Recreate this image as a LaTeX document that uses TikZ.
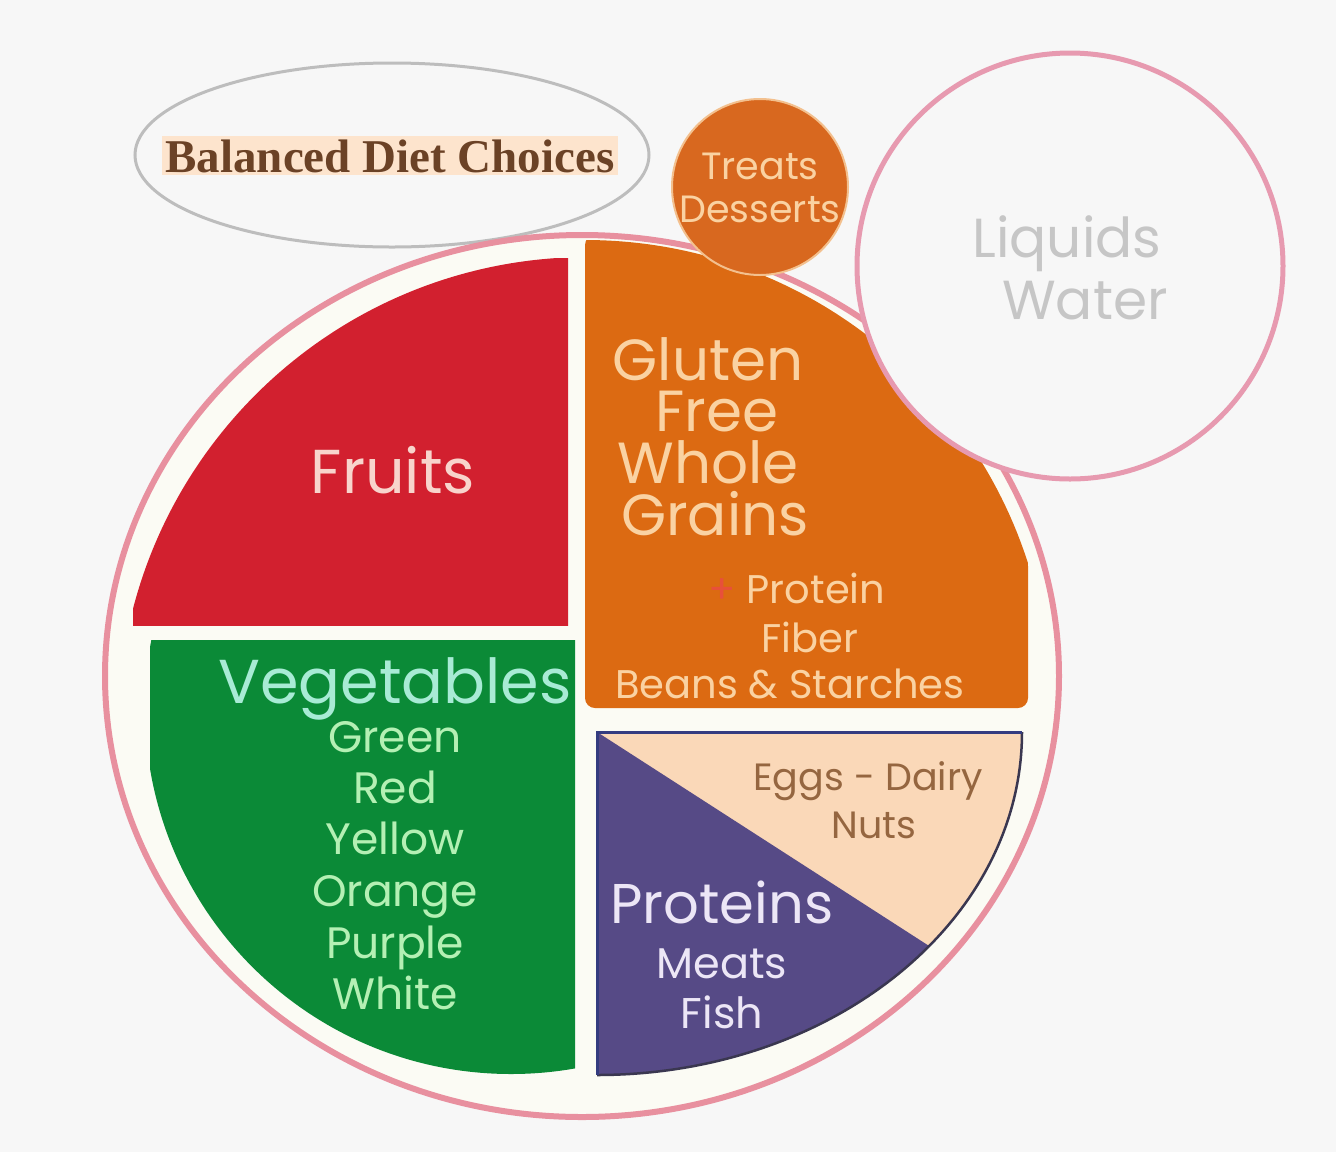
\documentclass[tikz,border=0pt]{standalone}
\usepackage{fontspec}
\usetikzlibrary{positioning}
\newfontfamily\platefont{Poppins}
\newfontfamily\titlefont{Liberation Serif}
\newcommand{\fsz}[1]{\fontsize{#1}{#1}\selectfont}
\definecolor{pagebg}{HTML}{F7F7F7}
\definecolor{platepink}{HTML}{E8909F}
\definecolor{platein}{HTML}{FBFBF4}
\definecolor{ovalgrey}{HTML}{BDBDBD}
\definecolor{fruitred}{HTML}{D2202F}
\definecolor{veggreen}{HTML}{0B8A37}
\definecolor{grainorange}{HTML}{DC6A12}
\definecolor{treatorange}{HTML}{D8681F}
\definecolor{treatrim}{HTML}{F3C08E}
\definecolor{protpurple}{HTML}{564A86}
\definecolor{eggpeach}{HTML}{FAD8B8}
\definecolor{protnavy}{HTML}{343C80}
\definecolor{protedge}{HTML}{3A3750}
\definecolor{liquidpink}{HTML}{E79AB0}
\definecolor{fruitpale}{HTML}{F8D4CC}
\definecolor{vegcyan}{HTML}{A8EBD5}
\definecolor{veglight}{HTML}{B4F0B4}
\definecolor{grainpale}{HTML}{FAD2A2}
\definecolor{dashred}{HTML}{E8503A}
\definecolor{liquidgrey}{HTML}{C6C6C6}
\definecolor{eggbrown}{HTML}{956640}
\definecolor{protpale}{HTML}{ECE6F6}
\definecolor{titlebrown}{HTML}{6B4226}
\definecolor{titlebg}{HTML}{FDE4CD}
\tikzset{
  oval/.style={draw=ovalgrey, line width=3pt},
  ring/.style={draw=platepink, line width=6pt, fill=platein},
  titletext/.style={font={\titlefont\bfseries\fsz{47}}, text=titlebrown, fill=titlebg, inner sep=3pt, anchor=base},
  platetext/.style={inner sep=0pt, anchor=base},
  fruittext/.style={platetext, font={\platefont\fsz{62}}, text=fruitpale},
  vegtitle/.style={platetext, font={\platefont\fsz{62}}, text=vegcyan},
  vegline/.style={platetext, font={\platefont\fsz{44}}, text=veglight},
  graintext/.style={platetext, font={\platefont\fsz{58}}, text=grainpale, text height=42pt, text depth=6pt},
  grainline/.style={platetext, font={\platefont\fsz{40}}, text=grainpale},
  treattext/.style={platetext, font={\platefont\fsz{38}}, text=grainpale},
  liquidtext/.style={platetext, font={\platefont\fsz{55}}, text=liquidgrey},
  eggtext/.style={platetext, font={\platefont\fsz{38}}, text=eggbrown},
  proteintitle/.style={platetext, font={\platefont\fsz{56}}, text=protpale},
  proteinline/.style={platetext, font={\platefont\fsz{43}}, text=protpale}
}
\begin{document}
\begin{tikzpicture}[x=1pt, y=-1pt]
  \useasboundingbox (0,0) rectangle (1336,1152);
  \fill[pagebg] (0,0) rectangle (1336,1152);

  % title oval
  \draw[oval] (392,155) ellipse [x radius=257, y radius=92];
  \node (title) [titletext] at (390,172) {Balanced Diet Choices};

  % plate
  \draw[ring] (582,676) ellipse [x radius=477, y radius=441];

  % fruits
  \begin{scope}
    \clip (133,258) rectangle (568,625);
    \fill[fruitred] (588,727) circle (470);
  \end{scope}

  % vegetables
  \begin{scope}
    \clip (150,640) rectangle (575,1077);
    \fill[veggreen] (511,708) circle (366);
  \end{scope}

  % grains
  \begin{scope}
    \clip[rounded corners=10pt] (585,235) rectangle (1028,708);
    \fill[grainorange] (585,705) circle (465);
  \end{scope}

  % proteins and eggs
  \fill[eggpeach] (597,732) -- (1022,732) arc[start angle=0, end angle=90, x radius=425, y radius=343] -- cycle;
  \fill[protpurple] (597,732) -- ++(38.6:425 and 343) arc[start angle=38.6, end angle=90, x radius=425, y radius=343] -- cycle;
  \draw[protedge, line width=2.5pt] (1022,732) arc[start angle=0, end angle=90, x radius=425, y radius=343];
  \draw[protnavy, line width=3pt] (1022,732) -- (597,732) -- (597,1075);

  % treats and liquids
  \draw[treatrim, fill=treatorange, line width=2pt] (760,187) circle (88);
  \draw[liquidpink, fill=pagebg, line width=5pt] (1070,266) circle (213);

  \node (fruits) [fruittext] at (393,493) {Fruits};

  \node (veg) [vegtitle] at (395,703) {Vegetables};
  \node (green) [vegline, below=49pt of veg.base, anchor=base] {Green};
  \node (red) [vegline, below=51pt of green.base, anchor=base] {Red};
  \node (yellow) [vegline, below=51pt of red.base, anchor=base] {Yellow};
  \node (orange) [vegline, below=52pt of yellow.base, anchor=base] {Orange};
  \node (purple) [vegline, below=52pt of orange.base, anchor=base] {Purple};
  \node (white) [vegline, below=51pt of purple.base, anchor=base] {White};

  \node (gluten) [graintext] at (708,380) {Gluten};
  \node (free) [graintext, below=51pt of gluten.base, anchor=base, xshift=9pt] {Free};
  \node (whole) [graintext, below=103pt of gluten.base, anchor=base] {Whole};
  \node (grains) [graintext, below=52pt of whole.base, anchor=base, xshift=7pt] {Grains};
  \node (protein) [grainline] at (797,603) {{\color{dashred}+} Protein};
  \node (fiber) [grainline, below=49pt of protein.base, anchor=base, xshift=13pt] {Fiber};
  \node (beans) [grainline, below=46pt of fiber.base, anchor=base, xshift=-20pt] {Beans \& Starches};

  \node (treats) [treattext] at (760,179) {Treats};
  \node (desserts) [treattext, below=43pt of treats.base, anchor=base] {Desserts};

  \node (liquids) [liquidtext] at (1067,257) {Liquids};
  \node (water) [liquidtext, below=62pt of liquids.base, anchor=base, xshift=18pt] {Water};

  \node (eggs) [eggtext] at (868,790) {Eggs - Dairy};
  \node (nuts) [eggtext, below=48pt of eggs.base, anchor=base, xshift=6pt] {Nuts};

  \node (proteins) [proteintitle] at (722,923) {Proteins};
  \node (meats) [proteinline, below=55pt of proteins.base, anchor=base] {Meats};
  \node (fish) [proteinline, below=50pt of meats.base, anchor=base] {Fish};
\end{tikzpicture}
\end{document}
